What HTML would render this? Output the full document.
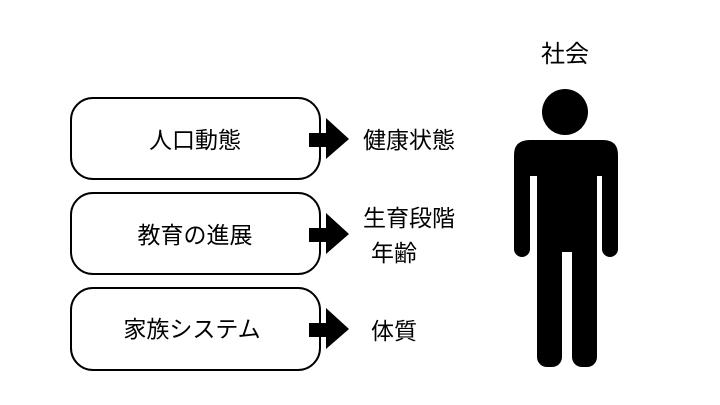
<!DOCTYPE html>
<html><head><meta charset="utf-8"><style>
body{margin:0;background:#fff;}
svg{display:block;}
text{font-family:"Liberation Sans","Noto Sans CJK JP",sans-serif;fill:#000;}
</style></head><body>
<svg width="720" height="405" viewBox="0 0 720 405">
<g fill="#fff" stroke="#000" stroke-width="2">
<rect x="71" y="98" width="249" height="81" rx="22"/>
<rect x="71" y="193" width="249" height="81" rx="22"/>
<rect x="71" y="288" width="249" height="82" rx="22"/>
</g>
<g fill="#000">
<polygon points="309,133 326,133 326,118 349,139 326,159 326,147 309,147"/>
<polygon points="309,228 326,228 326,213 349,234 326,254 326,242 309,242"/>
<polygon points="309,323 326,323 326,308 349,329 326,349 326,337 309,337"/>
</g>
<g font-size="23" text-anchor="middle">
<text x="195" y="148">人口動態</text>
<text x="195" y="243">教育の進展</text>
<text x="192" y="337">家族システム</text>
</g>
<g font-size="23">
<text x="363" y="148">健康状態</text>
<text x="363" y="226">生育段階</text>
<text x="371" y="261">年齢</text>
<text x="371" y="339">体質</text>
</g>
<text x="565" y="62" font-size="24" text-anchor="middle">社会</text>
<g fill="#000">
<circle cx="565" cy="112" r="23"/>
<path d="M530,140 H603 Q618,140 618,155 V176 H514 V155 Q514,140 530,140 Z"/>
<rect x="514" y="170" width="16" height="87" rx="8"/>
<rect x="602" y="170" width="16" height="87" rx="8"/>
<rect x="514" y="170" width="16" height="70"/>
<rect x="602" y="170" width="16" height="70"/>
<rect x="537" y="170" width="60" height="82"/>
<rect x="537" y="240" width="25" height="127" rx="10"/>
<rect x="572" y="240" width="25" height="127" rx="10"/>
</g>
</svg>
</body></html>
